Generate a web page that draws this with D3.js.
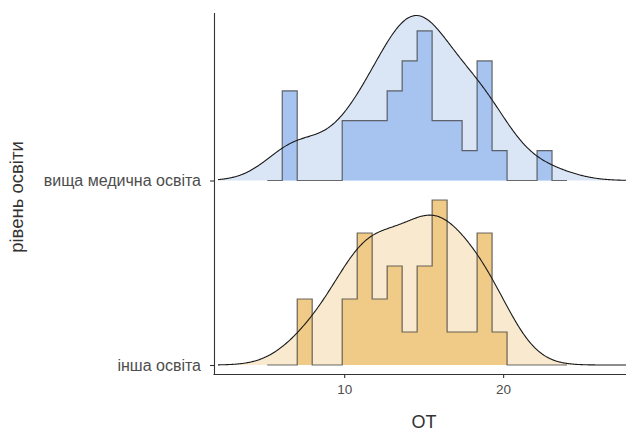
<!DOCTYPE html>
<html>
<head>
<meta charset="utf-8">
<script src="https://cdn.jsdelivr.net/npm/d3@7"></script>
<style>
  html, body { margin: 0; padding: 0; background: #ffffff; }
  svg { display: block; font-family: "Liberation Sans", Arial, sans-serif; }
</style>
</head>
<body>
<svg id="chart" width="626" height="432"></svg>
<script>
// Education groups, bottom to top
const groups = ["інша освіта", "вища медична освіта"];

// OT observations per group
const otOther = [
  7.8, 7.9,
  10.0, 10.2,
  11.0, 11.0, 11.1, 11.2,
  12.1, 12.2,
  13.2, 13.2, 13.2,
  14.1,
  15.1, 15.1, 15.1,
  16.0, 16.0, 16.0, 16.0, 16.0,
  16.9,
  17.9,
  18.8, 18.8, 18.8, 18.8,
  19.8
];
const otMedical = [
  6.8, 6.9, 7.0,
  10.0, 10.1,
  11.3, 11.3,
  12.2, 12.2,
  13.2, 13.2, 13.2,
  14.1, 14.1, 14.1, 14.1,
  15.1, 15.1, 15.1, 15.1, 15.1,
  16.0, 16.0,
  16.9, 16.9,
  17.9,
  18.8, 18.8, 18.8, 18.8,
  19.8,
  22.6
];
const seriesValues = [otOther, otMedical];

// Joint kernel bandwidth shared by both ridges
const bandwidth = 1.8;

// Histogram binning: 20 bins over the pooled OT range
const binCount = 20;
const binRange = [5.16, 24.02];

// Axis ticks
const xTicks = [10, 20];
const xTickLabels = ["10", "20"];

// Colours: [density fill, histogram fill] per group
const densityFills = ["#f8e9cf", "#dae5f6"];
const histFills = ["#f0cb88", "#a7c4f0"];

const svg = d3.select("#chart");

const panel = { left: 214, right: 626, top: 13, bottom: 374 };

const x = d3.scaleLinear().domain([1.81, 27.73]).range([panel.left, panel.right]);
const y = d3.scalePoint().domain(groups).range([365, 180.5]);
const ridgeHeight = 165;

// Gaussian kernel density estimate on a grid
function kde(v, grid, bw) {
  const n = v.length;
  const c = 1 / (n * bw * Math.sqrt(2 * Math.PI));
  return grid.map(g => [g, c * d3.sum(v, d => Math.exp(-0.5 * ((g - d) / bw) ** 2))]);
}

const gridN = 512;
const gridFrom = 2.06, gridTo = 28.5;
const grid = d3.range(gridN).map(i => gridFrom + (gridTo - gridFrom) * i / (gridN - 1));
const densities = seriesValues.map(v => kde(v, grid, bandwidth));

const binWidth = (binRange[1] - binRange[0]) / binCount;
const thresholds = d3.range(1, binCount).map(i => binRange[0] + i * binWidth);
const binner = d3.bin().domain(binRange).thresholds(thresholds);
const hists = seriesValues.map(v => binner(v).map(b => ({
  x0: b.x0, x1: b.x1, d: b.length / (v.length * binWidth)
})));

// Each layer is scaled so its tallest ridge reaches the same height
const densMax = d3.max(densities, ds => d3.max(ds, p => p[1]));
const histMax = d3.max(hists, hs => d3.max(hs, b => b.d));
const hDens = d3.scaleLinear().domain([0, densMax]).range([0, ridgeHeight]);
const hHist = d3.scaleLinear().domain([0, histMax]).range([0, ridgeHeight]);

svg.append("defs").append("clipPath").attr("id", "panelClip")
  .append("rect").attr("x", panel.left).attr("y", 0)
  .attr("width", panel.right - panel.left).attr("height", panel.bottom);

const plot = svg.append("g").attr("clip-path", "url(#panelClip)");

// Draw top ridge first so lower ridges overlay it
[1, 0].forEach(gi => {
  const base = y(groups[gi]);
  const g = plot.append("g");

  const area = d3.area().x(p => x(p[0])).y0(base).y1(p => base - hDens(p[1]));
  const line = d3.line().x(p => x(p[0])).y(p => base - hDens(p[1]));

  g.append("path").datum(densities[gi]).attr("d", area)
    .attr("fill", densityFills[gi]);

  // Step outline of the histogram, running along the baseline for empty bins
  const pts = [];
  hists[gi].forEach(b => {
    pts.push([b.x0, b.d]);
    pts.push([b.x1, b.d]);
  });
  const stepArea = d3.area().x(p => x(p[0])).y0(base).y1(p => base - hHist(p[1]));
  const stepLine = d3.line().x(p => x(p[0])).y(p => base - hHist(p[1]));

  g.append("path").datum(pts).attr("d", stepArea).attr("fill", histFills[gi]);

  const outline = [[hists[gi][0].x0, 0]].concat(pts, [[hists[gi][hists[gi].length - 1].x1, 0]]);
  g.append("path").datum(outline).attr("d", stepLine)
    .attr("fill", "none").attr("stroke", "#3a3a3a").attr("stroke-opacity", 0.75)
    .attr("stroke-width", 1.2);

  g.append("path").datum(densities[gi]).attr("d", line)
    .attr("fill", "none").attr("stroke", "#1a1a1a").attr("stroke-width", 1.1);
});

// Axes
const axisColor = "#333333";
const textColor = "#4d4d4d";

const xAxis = svg.append("g").attr("transform", `translate(0,${panel.bottom})`)
  .call(d3.axisBottom(x).tickValues(xTicks).tickFormat((d, i) => xTickLabels[i])
    .tickSizeInner(4).tickSizeOuter(0).tickPadding(6));
xAxis.select(".domain").attr("stroke", axisColor).attr("stroke-width", 1.1)
  .attr("d", `M${panel.left - 0.5},0.5H${panel.right}`);
xAxis.selectAll(".tick line").attr("stroke", axisColor).attr("stroke-width", 1.1);
xAxis.selectAll(".tick text").attr("fill", textColor).attr("font-size", 13.5);

const yAxis = svg.append("g").attr("transform", `translate(${panel.left},0)`)
  .call(d3.axisLeft(y).tickSizeInner(4).tickSizeOuter(0).tickPadding(9));
yAxis.select(".domain").attr("stroke", axisColor).attr("stroke-width", 1.1)
  .attr("d", `M0.5,${panel.top}V${panel.bottom + 0.5}`);
yAxis.selectAll(".tick line").attr("stroke", axisColor).attr("stroke-width", 1.1);
yAxis.selectAll(".tick text").attr("fill", textColor).attr("font-size", 16);

// Axis titles
svg.append("text").attr("x", 424).attr("y", 428)
  .attr("text-anchor", "middle").attr("fill", "#333").attr("font-size", 18)
  .text("OT");
svg.append("text").attr("transform", "translate(23,197) rotate(-90)")
  .attr("text-anchor", "middle").attr("fill", "#333").attr("font-size", 18.5)
  .text("рівень освіти");
</script>
</body>
</html>
